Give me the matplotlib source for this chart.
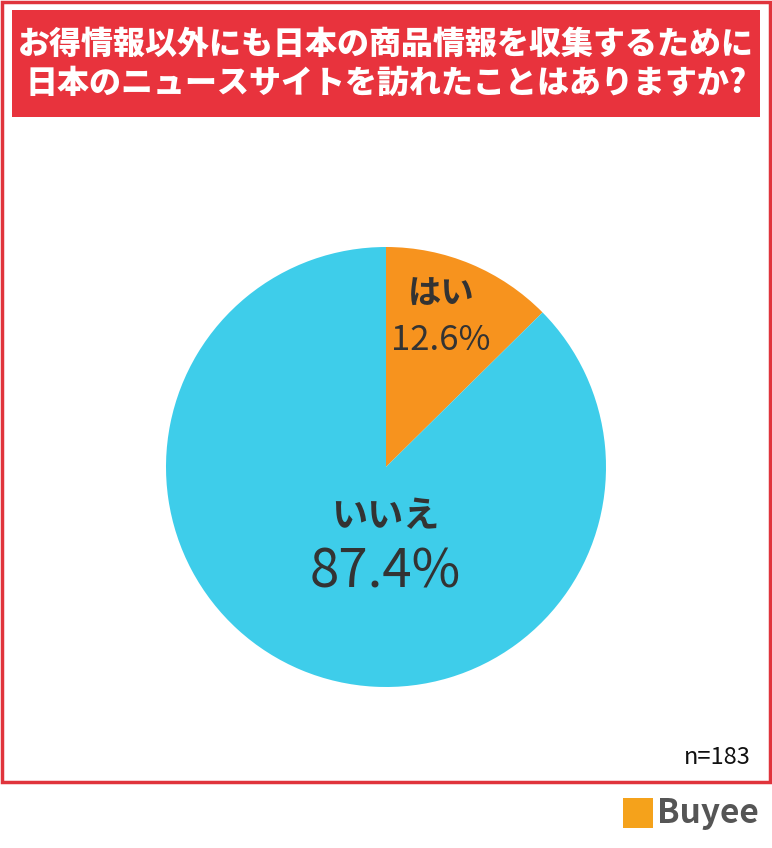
import matplotlib
matplotlib.use("Agg")
import matplotlib.pyplot as plt
from matplotlib.patches import Rectangle

plt.rcParams['font.family'] = ['Noto Sans CJK JP', 'DejaVu Sans']

labels = ['はい', 'いいえ']
values = [12.6, 87.4]
colors = ['#F7931E', '#3ECDEA']
title = 'お得情報以外にも日本の商品情報を収集するために\n日本のニュースサイトを訪れたことはありますか?'
note = 'n=183'

W, H = 772, 848
fig = plt.figure(figsize=(W/100, H/100), dpi=100)
fig.patch.set_facecolor('white')

def px(x, y):
    return x/W, 1 - y/H

fig.patches.append(Rectangle(px(2, 782), 768/W, 780/H, transform=fig.transFigure,
                             fill=False, edgecolor='#E0343C', linewidth=2.5))
fig.patches.append(Rectangle(px(12, 117), 748/W, 107/H, transform=fig.transFigure,
                             facecolor='#E8333D', edgecolor='none'))
fig.text(*px(386, 64), title, ha='center', va='center', color='white',
         fontsize=23, fontweight='black', linespacing=1.2)

cx, cy, r = 386, 467, 220
ax = fig.add_axes([(cx-r)/W, 1-(cy+r)/H, 2*r/W, 2*r/H])
ax.pie(values, colors=colors, startangle=90, counterclock=False,
       wedgeprops=dict(linewidth=0))
ax.set_xlim(-1, 1)
ax.set_ylim(-1, 1)
ax.set_aspect('equal')
ax.axis('off')

fig.text(*px(441, 294), labels[0], ha='center', va='center', fontsize=24,
         fontweight='bold', color='#333333')
fig.text(*px(441, 340), f'{values[0]}%', ha='center', va='center', fontsize=25,
         color='#333333')
fig.text(*px(385, 517), labels[1], ha='center', va='center', fontsize=26,
         fontweight='bold', color='#333333')
fig.text(*px(385, 572), f'{values[1]}%', ha='center', va='center', fontsize=38,
         color='#333333')

fig.text(*px(717, 757), note, ha='center', va='center', fontsize=17, color='#111111')

fig.patches.append(Rectangle(px(623, 828), 30/W, 30/H, transform=fig.transFigure,
                             facecolor='#F5A21B', edgecolor='none'))
fig.text(*px(708, 813), 'Buyee', ha='center', va='center', fontsize=24,
         fontweight='bold', color='#555555')

fig.savefig('out.png', dpi=100)
